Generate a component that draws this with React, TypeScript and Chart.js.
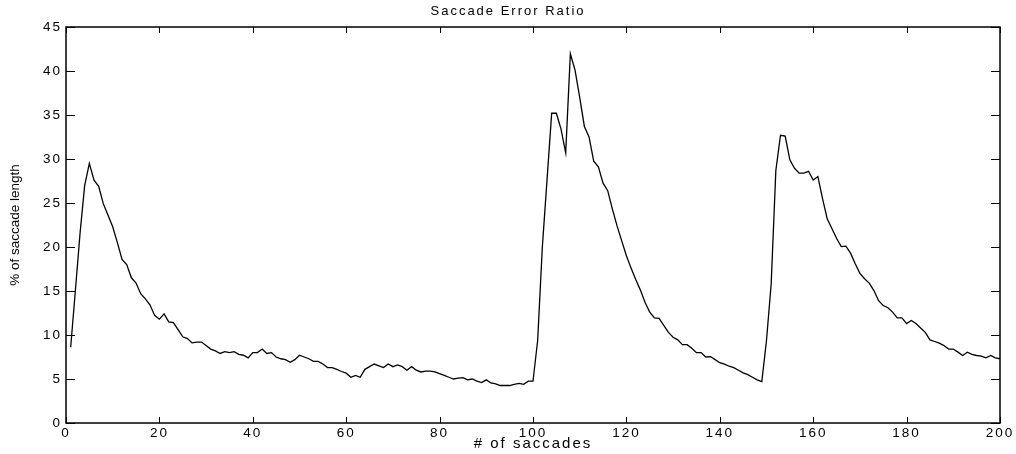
import { useEffect, useRef } from "react";
import { Chart, registerables } from "chart.js";

Chart.register(...registerables);

// ---- data ----
const chartTitle = "Saccade Error Ratio";
const xAxisLabel = "# of saccades";
const yAxisLabel = "% of saccade length";

const firstSaccade = 1;

// error ratio (% of saccade length) for saccades 1..200
const saccadeErrorPct = [
  8.6, 15.0, 21.5, 27.0, 29.5, 27.6, 26.9, 24.9, 23.6, 22.3,
  20.5, 18.6, 18.0, 16.5, 15.9, 14.7, 14.1, 13.4, 12.2, 11.8,
  12.4, 11.5, 11.4, 10.6, 9.8, 9.6, 9.1, 9.2, 9.2, 8.8,
  8.4, 8.2, 7.9, 8.1, 8.0, 8.1, 7.8, 7.7, 7.4, 8.0,
  8.0, 8.4, 7.9, 8.0, 7.5, 7.3, 7.2, 6.9, 7.2, 7.7,
  7.5, 7.3, 7.0, 7.0, 6.7, 6.3, 6.3, 6.1, 5.85, 5.66,
  5.2, 5.4, 5.2, 6.1, 6.4, 6.7, 6.5, 6.3, 6.7, 6.4,
  6.6, 6.4, 6.0, 6.4, 6.0, 5.8, 5.9, 5.9, 5.8, 5.6,
  5.4, 5.2, 5.0, 5.1, 5.15, 4.9, 5.0, 4.75, 4.6, 4.9,
  4.55, 4.45, 4.26, 4.26, 4.26, 4.4, 4.5, 4.4, 4.75, 4.75,
  9.4, 20.0, 27.6, 35.2, 35.2, 33.4, 30.7, 41.95, 40.1, 37.0,
  33.7, 32.5, 29.75, 29.1, 27.25, 26.4, 24.3, 22.4, 20.7, 19.0,
  17.6, 16.3, 15.1, 13.7, 12.6, 11.95, 11.9, 11.1, 10.3, 9.75,
  9.45, 8.9, 8.9, 8.5, 8.0, 8.0, 7.5, 7.55, 7.2, 6.85,
  6.7, 6.45, 6.3, 6.0, 5.7, 5.5, 5.2, 4.9, 4.7, 9.4,
  15.8, 28.7, 32.7, 32.6, 29.9, 28.95, 28.4, 28.4, 28.6, 27.6,
  28.0, 25.5, 23.2, 22.1, 21.0, 20.05, 20.1, 19.3, 18.1, 17.0,
  16.4, 15.9, 15.05, 13.9, 13.35, 13.1, 12.6, 11.95, 11.95, 11.3,
  11.65, 11.3, 10.8, 10.3, 9.45, 9.26, 9.07, 8.8, 8.4, 8.4,
  8.05, 7.67, 8.05, 7.8, 7.67, 7.6, 7.4, 7.67, 7.4, 7.3,
];

const xTickValues = [0, 20, 40, 60, 80, 100, 120, 140, 160, 180, 200];
const yTickValues = [0, 5, 10, 15, 20, 25, 30, 35, 40, 45];

// ---- styling ----
const TEXT_SPACING = "2px";
const FONT = "'Liberation Sans', Arial, Helvetica, sans-serif";

const textSpacingPlugin = {
  id: "textSpacing",
  beforeDraw(chart: any) {
    chart.ctx.letterSpacing = TEXT_SPACING;
  },
  afterDatasetsDraw(chart: any) {
    chart.ctx.letterSpacing = "0px";
  },
};

const frameTicksPlugin = {
  id: "frameTicks",
  afterDraw(chart: any) {
    const { ctx, chartArea: a, scales } = chart;
    const xs = scales.x;
    const ys = scales.y;
    ctx.save();
    ctx.strokeStyle = "#000";
    ctx.lineWidth = 1;
    ctx.beginPath();
    for (const v of xTickValues) {
      const px = Math.round(xs.getPixelForValue(v)) + 0.5;
      ctx.moveTo(px, a.bottom);
      ctx.lineTo(px, a.bottom - 6);
      ctx.moveTo(px, a.top);
      ctx.lineTo(px, a.top + 6);
    }
    for (const v of yTickValues) {
      const py = Math.round(ys.getPixelForValue(v)) + 0.5;
      ctx.moveTo(a.left, py);
      ctx.lineTo(a.left + 9, py);
      ctx.moveTo(a.right, py);
      ctx.lineTo(a.right - 9, py);
    }
    ctx.stroke();
    ctx.lineWidth = 1.5;
    ctx.strokeRect(a.left, a.top, a.right - a.left, a.bottom - a.top);
    ctx.restore();
  },
};

export default function App() {
  const canvasRef = useRef<HTMLCanvasElement | null>(null);

  useEffect(() => {
    const canvas = canvasRef.current;
    if (!canvas) return;
    const points = saccadeErrorPct.map((v, i) => ({ x: firstSaccade + i, y: v }));

    const chart = new Chart(canvas, {
      type: "line",
      data: {
        datasets: [
          {
            data: points,
            borderColor: "#000",
            borderWidth: 1.3,
            pointRadius: 0,
            tension: 0,
            fill: false,
          },
        ],
      },
      options: {
        responsive: false,
        animation: false,
        devicePixelRatio: 1,
        layout: { padding: { top: 0, right: 8, bottom: 0, left: 8 } },
        plugins: {
          legend: { display: false },
          tooltip: { enabled: false },
          title: {
            display: true,
            text: chartTitle,
            color: "#000",
            font: { family: FONT, size: 13, weight: "normal" },
            padding: { top: 4, bottom: 7.4 },
          },
        },
        scales: {
          x: {
            type: "linear",
            min: 0,
            max: 200,
            afterBuildTicks: (scale: any) => {
              scale.ticks = xTickValues.map((v) => ({ value: v }));
            },
            afterFit: (scale: any) => {
              scale.height = 31;
            },
            grid: { display: false, drawTicks: false },
            border: { display: false },
            ticks: {
              color: "#000",
              padding: 2,
              maxRotation: 0,
              font: { family: FONT, size: 13.5 },
            },
            title: {
              display: true,
              text: xAxisLabel,
              color: "#000",
              font: { family: FONT, size: 15 },
              padding: { top: 0, bottom: 1 },
            },
          },
          y: {
            type: "linear",
            min: 0,
            max: 45,
            afterBuildTicks: (scale: any) => {
              scale.ticks = yTickValues.map((v) => ({ value: v }));
            },
            afterFit: (scale: any) => {
              scale.width = 58;
            },
            grid: { display: false, drawTicks: false, z: 1 },
            border: { display: false },
            ticks: {
              color: "#000",
              padding: 4,
              font: { family: FONT, size: 13.5 },
            },
            title: {
              display: true,
              text: yAxisLabel,
              color: "#000",
              font: { family: FONT, size: 13.5 },
              padding: { top: -1, bottom: 0 },
            },
          },
          yRight: {
            type: "linear",
            position: "right",
            display: true,
            min: 0,
            max: 45,
            afterFit: (scale: any) => {
              scale.width = 8;
            },
            grid: { display: false, drawTicks: false },
            border: { display: false },
            ticks: { display: false },
          },
        },
      },
      plugins: [textSpacingPlugin, frameTicksPlugin],
    } as any);

    return () => {
      chart.destroy();
    };
  }, []);

  return (
    <div style={{ position: "absolute", left: 0, top: 0, width: 1016, height: 454, background: "#fff" }}>
      <canvas ref={canvasRef} width={1016} height={454} style={{ display: "block" }} />
    </div>
  );
}
